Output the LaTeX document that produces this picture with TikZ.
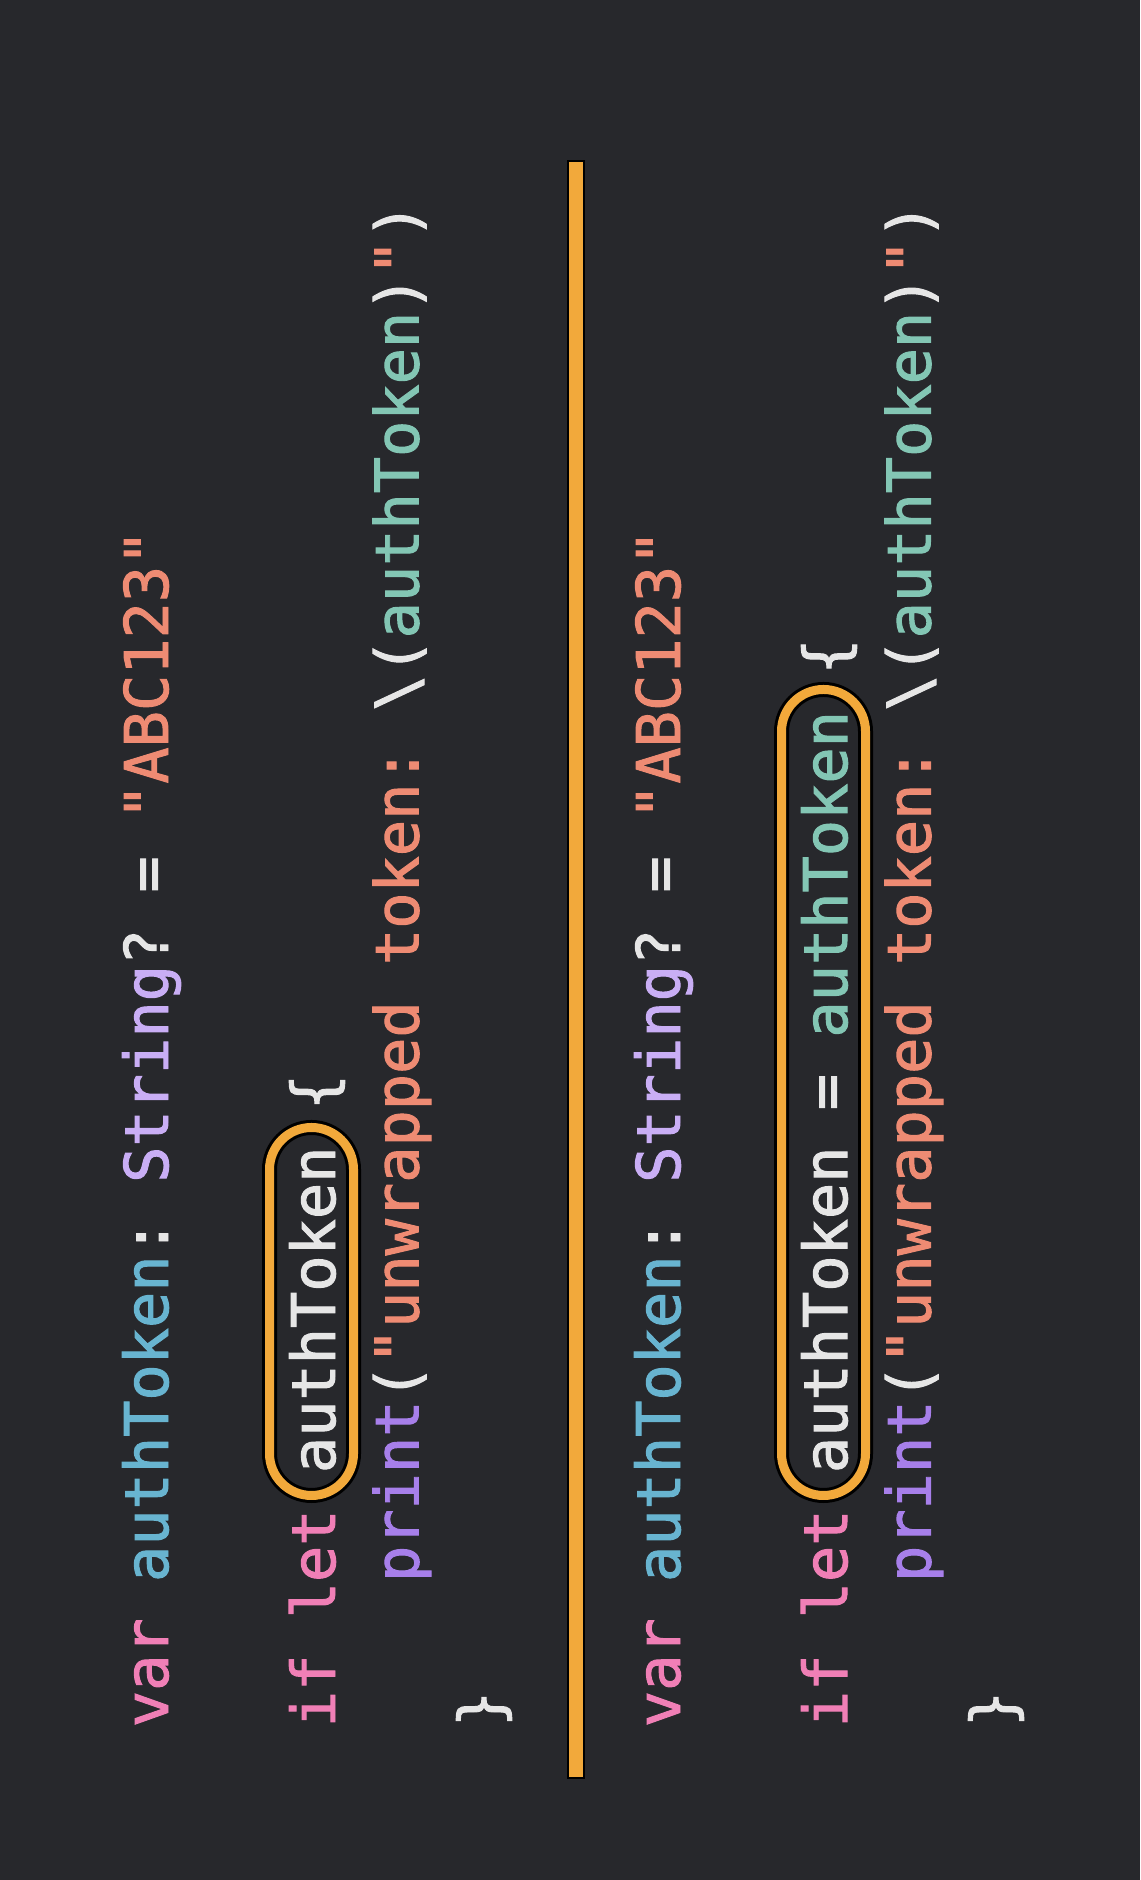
\documentclass[tikz,border=0pt]{standalone}
\usepackage{fontspec}
\usepackage{tikz}
\newfontfamily\codefont[FakeBold=1.6]{DejaVu Sans Mono}

\definecolor{bg}{HTML}{27282C}
\definecolor{kw}{HTML}{F07FB6}
\definecolor{idblue}{HTML}{68B4D0}
\definecolor{typ}{HTML}{C9AEF5}
\definecolor{str}{HTML}{EE8B73}
\definecolor{fn}{HTML}{A77FEA}
\definecolor{mint}{HTML}{83C6B4}
\definecolor{plain}{HTML}{E6E6E6}
\definecolor{hl}{HTML}{F2A93B}

\newcommand{\cc}[2]{\textcolor{#1}{#2}}

\tikzset{
  codeline/.style={anchor=base west, inner sep=0pt, text=plain,
    font=\codefont\fontsize{15.07pt}{18pt}\selectfont\frenchspacing},
  hilite/.style={draw=black, line width=0.75pt, double=hl,
    double distance=2.25pt, rounded corners=10.5pt},
}

\begin{document}
\begin{tikzpicture}[x=0.25pt, y=0.25pt]
        % Background and divider
        \fill[bg] (0,0) rectangle (1140,1880);
        \filldraw[fill=hl, draw=black, line width=0.5pt] (568,102) rectangle (584,1719);

        % First snippet
        \begin{scope}[shift={(168,152)}, rotate=90, transform shape]
          \node (a-var) [codeline] at (0,0)
            {\cc{kw}{var} \cc{idblue}{authToken}: \cc{typ}{String}? = \cc{str}{"ABC123"}};
          \draw[hilite] (232.5,-185.5) rectangle (600.5,-101.5);
          \node (a-if) [codeline] at (0,-167)
            {\cc{kw}{if} \cc{kw}{let} authToken \{};
          \node (a-print) [codeline] at (145.2,-250.5)
            {\cc{fn}{print}(\cc{str}{"unwrapped token: }\textbackslash(\cc{mint}{authToken})\cc{str}{"})};
          \node (a-close) [codeline] at (0,-334) {\}};
        \end{scope}

        % Second snippet
        \begin{scope}[shift={(680,152)}, rotate=90, transform shape]
          \node (b-var) [codeline] at (0,0)
            {\cc{kw}{var} \cc{idblue}{authToken}: \cc{typ}{String}? = \cc{str}{"ABC123"}};
          \draw[hilite] (232.5,-185.5) rectangle (1038.5,-101.5);
          \node (b-if) [codeline] at (0,-167)
            {\cc{kw}{if} \cc{kw}{let} authToken = \cc{mint}{authToken} \{};
          \node (b-print) [codeline] at (145.2,-250.5)
            {\cc{fn}{print}(\cc{str}{"unwrapped token: }\textbackslash(\cc{mint}{authToken})\cc{str}{"})};
          \node (b-close) [codeline] at (0,-334) {\}};
        \end{scope}
    \end{tikzpicture}
\end{document}
